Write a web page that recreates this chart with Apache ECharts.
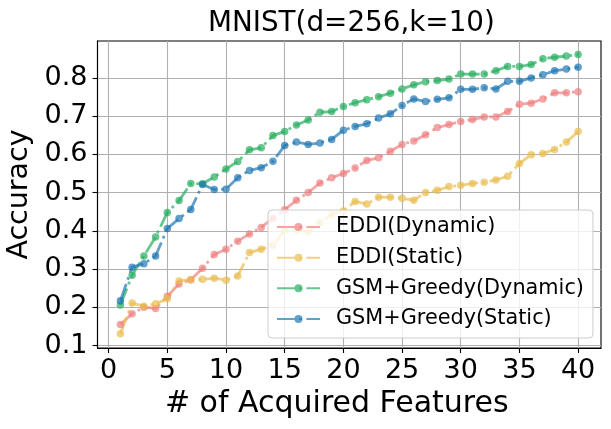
<!DOCTYPE html>
<html>
<head>
<meta charset="utf-8">
<script src="https://cdn.jsdelivr.net/npm/echarts@6/dist/echarts.min.js"></script>
<style>html,body{margin:0;padding:0;background:#fff}#c{width:611px;height:429px}</style>
</head>
<body>
<div id="c"></div>
<script>
const features = [1,2,3,4,5,6,7,8,9,10,11,12,13,14,15,16,17,18,19,20,21,22,23,24,25,26,27,28,29,30,31,32,33,34,35,36,37,38,39,40];
const eddiDynamic = [0.155,0.183,0.200,0.197,0.229,0.261,0.272,0.302,0.338,0.352,0.373,0.392,0.409,0.433,0.455,0.480,0.500,0.525,0.539,0.550,0.564,0.584,0.591,0.608,0.626,0.635,0.651,0.670,0.678,0.686,0.691,0.698,0.698,0.712,0.731,0.734,0.745,0.761,0.761,0.764];
const eddiStatic = [0.131,0.211,0.203,0.209,0.222,0.269,0.272,0.273,0.276,0.271,0.282,0.343,0.352,0.362,0.401,0.402,0.397,0.422,0.443,0.452,0.477,0.470,0.488,0.488,0.485,0.480,0.500,0.506,0.516,0.519,0.524,0.527,0.533,0.543,0.576,0.599,0.602,0.613,0.632,0.660];
const gsmDynamic = [0.206,0.284,0.334,0.384,0.448,0.479,0.524,0.523,0.541,0.562,0.581,0.612,0.617,0.649,0.660,0.677,0.690,0.710,0.712,0.725,0.735,0.743,0.751,0.760,0.771,0.782,0.790,0.793,0.797,0.810,0.810,0.810,0.819,0.830,0.830,0.835,0.850,0.854,0.857,0.861];
const gsmStatic = [0.217,0.305,0.314,0.334,0.406,0.432,0.456,0.521,0.508,0.509,0.539,0.558,0.565,0.582,0.623,0.632,0.626,0.630,0.639,0.663,0.673,0.680,0.695,0.706,0.728,0.745,0.738,0.744,0.748,0.770,0.770,0.774,0.771,0.791,0.791,0.800,0.808,0.819,0.823,0.828];
const seriesNames = ['EDDI(Dynamic)','EDDI(Static)','GSM+Greedy(Dynamic)','GSM+Greedy(Static)'];
const xTicks = [0,5,10,15,20,25,30,35,40];
const yTicks = [0.1,0.2,0.3,0.4,0.5,0.6,0.7,0.8];
const yTickLabels = ['0.1','0.2','0.3','0.4','0.5','0.6','0.7','0.8'];

const colors = ['#F08080','#E9BD4F','#27AE60','#1F77B4'];
const seriesValues = [eddiDynamic, eddiStatic, gsmDynamic, gsmStatic];
const FONT = 'DejaVu Sans';
const chart = echarts.init(document.getElementById('c'), null, {renderer:'canvas'});
const tickFont = {fontFamily: FONT, fontSize: 27, color: '#000'};
chart.setOption({
  animation: false,
  backgroundColor: '#fff',
  title: {
    text: 'MNIST(d=256,k=10)', left: 208, top: 10, padding: 0,
    textStyle: {fontFamily: FONT, fontSize: 27.8, fontWeight: 'normal', color: '#000'}
  },
  grid: {
    left: 97.5, right: 10, top: 41, bottom: 81,
    show: true, borderColor: '#000', borderWidth: 1.1, backgroundColor: 'transparent',
    containLabel: false, outerBoundsMode: 'none'
  },
  legend: {
    orient: 'vertical', left: 268, top: 210,
    padding: [5, 9, 7, 8], itemGap: 6.67, itemWidth: 43, itemHeight: 10,
    backgroundColor: 'rgba(255,255,255,0.8)', borderColor: '#cccccc', borderWidth: 1, borderRadius: 4,
    textStyle: {fontFamily: FONT, fontSize: 20.8, color: '#000', lineHeight: 24, padding: [0,0,0,11]},
    data: seriesNames
  },
  xAxis: {
    type: 'value', min: -0.95, max: 41.95,
    name: '# of Acquired Features', nameLocation: 'middle', nameGap: 41,
    nameTextStyle: {fontFamily: FONT, fontSize: 30, color: '#000', padding: [0, 25, 0, 0]},
    axisLine: {show: true, onZero: false, lineStyle: {color: '#000', width: 1.1}},
    axisTick: {show: true, inside: false, length: 5, customValues: xTicks, lineStyle: {color: '#000', width: 1.1}},
    axisLabel: {show: true, margin: 9, customValues: xTicks, ...tickFont},
    splitLine: {show: true, lineStyle: {color: '#b0b0b0', width: 1.1}}
  },
  yAxis: {
    type: 'value', min: 0.0935, max: 0.8965,
    name: 'Accuracy', nameLocation: 'middle', nameGap: 58,
    nameTextStyle: {fontFamily: FONT, fontSize: 28.5, color: '#000'},
    axisLine: {show: true, onZero: false, lineStyle: {color: '#000', width: 1.1}},
    axisTick: {show: true, inside: false, length: 5, customValues: yTicks, lineStyle: {color: '#000', width: 1.1}},
    axisLabel: {show: true, margin: 10, customValues: yTicks, ...tickFont,
      formatter: function(v){ const i = yTicks.findIndex(t => Math.abs(t - v) < 1e-6); return i >= 0 ? yTickLabels[i] : ''; }},
    splitLine: {show: true, lineStyle: {color: '#b0b0b0', width: 1.1}}
  },
  series: seriesNames.map((name, k) => ({
    name: name, type: 'line',
    data: features.map((f, i) => [f, seriesValues[k][i]]),
    symbol: 'circle', symbolSize: 7.5, showSymbol: true,
    lineStyle: {color: colors[k], width: 2.8, opacity: 0.7, type: [17.8, 4.4, 2.8, 4.4]},
    itemStyle: {color: colors[k], opacity: 0.7, borderWidth: 0},
    emphasis: {disabled: true}
  }))
});
</script>
</body>
</html>
